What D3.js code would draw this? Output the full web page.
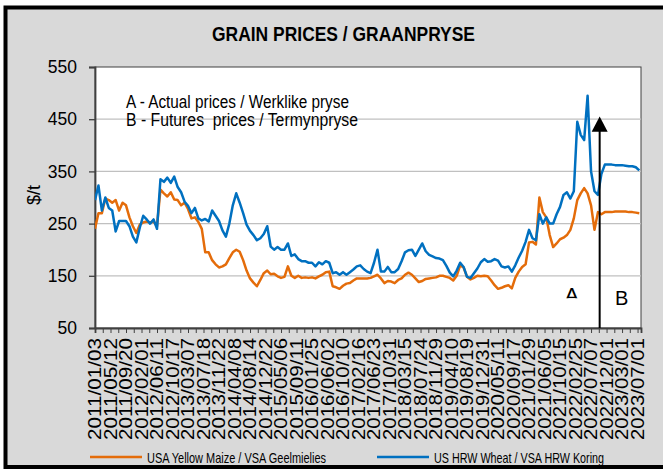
<!DOCTYPE html>
<html>
<head>
<meta charset="utf-8">
<script src="https://cdn.jsdelivr.net/npm/d3@7"></script>
<style>
body { margin: 0; background: #fff; }
text { font-family: "Liberation Sans", Arial, sans-serif; fill: #000; }
</style>
</head>
<body>
<div id="main_view"></div>
<script>
// tick labels of the category axis (one every 90 trading days)
var tickLabels = ["2011/01/03","2011/05/12","2011/09/20","2012/02/01","2012/06/11","2012/10/17",
  "2013/03/07","2013/07/18","2013/11/22","2014/04/08","2014/08/14","2014/12/22",
  "2015/05/06","2015/09/11","2016/01/25","2016/06/02","2016/10/10","2017/02/16",
  "2017/06/23","2017/10/31","2018/03/15","2018/07/24","2018/11/29","2019/04/10",
  "2019/08/19","2019/12/31","2020/05/11","2020/09/17","2021/01/29","2021/06/05",
  "2021/10/15","2022/02/25","2022/07/07","2022/12/01","2023/03/01","2023/07/01"];

// prices in $/t, one value every 20 trading days
var maize = [240,270,270,298,295,290,295,275,290,285,262,245,232,248,252,254,252,254,
  245,315,308,302,310,296,295,285,290,278,260,262,253,240,195,195,180,172,166,168,172,184,195,200,196,180,160,145,137,130,142,155,160,153,154,149,
  146,148,168,150,146,150,146,147,146,147,145,149,152,157,158,130,128,125,131,135,136,141,145,145,145,145,146,149,152,145,136,140,139,136,142,145,
  152,156,152,145,138,140,144,145,146,147,150,150,148,146,141,150,170,166,148,143,146,150,149,150,149,141,132,125,127,130,132,126,146,158,167,172,
  214,215,210,300,272,262,228,205,212,220,223,228,238,260,295,308,318,308,285,238,272,268,272,272,272,273,273,273,273,272,272,271,270];

var wheat = [295,323,275,300,280,275,235,255,255,255,245,225,214,242,265,258,250,258,
  240,335,330,338,328,340,320,310,292,284,270,280,260,256,259,254,275,265,255,237,225,250,285,308,290,270,248,236,228,218,222,230,245,206,200,205,
  200,200,212,188,191,182,178,178,175,175,168,176,172,178,175,155,157,152,157,152,157,162,168,170,163,158,155,175,200,158,158,167,157,157,163,178,
  195,199,200,188,200,212,197,190,187,184,183,180,169,156,149,160,175,167,148,146,155,164,176,182,177,178,182,179,168,166,168,158,170,185,198,215,
  238,222,218,268,250,262,250,250,268,282,305,310,298,312,445,420,410,495,350,312,305,345,363,363,363,362,362,362,361,360,360,358,352];

var yTicks = [50, 150, 250, 350, 450, 550];
var sampleStep = 20, labelStep = 90, minorStep = 45, lastDay = 3170;
var futuresStart = 2930;   // day where actual prices end and futures start

var seriesList = [
  {name: "USA Yellow Maize / VSA Geelmielies", values: maize, color: "#E46C0A"},
  {name: "US HRW Wheat / VSA HRW Koring", values: wheat, color: "#0070C0"}
];

// set the dimensions and margins of the graph
var margin = {top: 67, right: 22, bottom: 142, left: 95},
    width = 663 - margin.left - margin.right,
    height = 470 - margin.top - margin.bottom;

var xScale = d3.scaleLinear().domain([0, lastDay]).range([0, width]);
var yScale = d3.scaleLinear().domain([50, 550]).range([height, 0]);

var root = d3.select("#main_view").append("svg")
    .attr("width", 663)
    .attr("height", 470);

// outer chart frame
root.append("rect")
    .attr("x", 5.5).attr("y", 7.5)
    .attr("width", 690).attr("height", 459.5)
    .attr("fill", "#d9d9d9")
    .attr("stroke", "#000")
    .attr("stroke-width", 4);

// narrow-looking texts: squeeze Liberation Sans to the reference widths
root.append("text")
    .attr("x", 212).attr("y", 41)
    .attr("textLength", 263)
    .attr("lengthAdjust", "spacingAndGlyphs")
    .style("font-size", "20px")
    .style("font-weight", "bold")
    .text("GRAIN PRICES / GRAANPRYSE");

var svg = root.append("g")
    .attr("transform", "translate(" + margin.left + "," + margin.top + ")");

svg.append("rect")
    .attr("width", width).attr("height", height)
    .attr("fill", "#fff")
    .attr("stroke", "#404040")
    .attr("stroke-width", 1);

svg.append("clipPath").attr("id", "plotclip")
  .append("rect").attr("width", width).attr("height", height);

// gridlines
svg.selectAll(".grid")
    .data(yTicks.slice(1, -1))
  .enter().append("line")
    .attr("x1", 0).attr("x2", width)
    .attr("y1", function(d) { return yScale(d); })
    .attr("y2", function(d) { return yScale(d); })
    .attr("stroke", "#c0c0c0")
    .attr("stroke-width", 1.3);

// Add the Y Axis
var yAxis = svg.append("g")
    .call(d3.axisLeft(yScale).tickValues(yTicks).tickSize(6).tickPadding(12));
yAxis.select(".domain").attr("stroke", "#404040").attr("stroke-width", 1.8);
yAxis.selectAll(".tick line").attr("stroke", "#404040").attr("stroke-width", 1.3);
yAxis.selectAll(".tick text")
    .style("font-size", "17.5px")
    .style("font-family", "'Liberation Sans', Arial, sans-serif")
    .attr("fill", "#000");

// Add the X Axis (minor ticks, then labels)
var minorTicks = d3.range(0, lastDay, minorStep);
var xAxis = svg.append("g")
    .attr("transform", "translate(0," + height + ")")
    .call(d3.axisBottom(xScale).tickValues(minorTicks).tickSize(5).tickFormat(""));
xAxis.select(".domain").attr("stroke", "#404040").attr("stroke-width", 1.8);
xAxis.selectAll(".tick line").attr("stroke", "#404040").attr("stroke-width", 1);

svg.append("g").selectAll(".xlabel")
    .data(tickLabels)
  .enter().append("text")
    .attr("transform", function(d, i) {
      return "translate(" + xScale(i * labelStep) + "," + (height + 10) + ") rotate(-90)";
    })
    .attr("dy", "0.36em")
    .attr("text-anchor", "end")
    .attr("textLength", 102)
    .attr("lengthAdjust", "spacingAndGlyphs")
    .style("font-size", "17.5px")
    .text(function(d) { return d; });

root.append("text")
    .attr("transform", "translate(40,195) rotate(-90)")
    .attr("text-anchor", "middle")
    .style("font-size", "18px")
    .text("$/t");

// define the line
var line = d3.line()
    .x(function(d, i) { return xScale(i * sampleStep); })
    .y(function(d) { return yScale(d); });

svg.selectAll(".series")
    .data(seriesList)
  .enter().append("path")
    .attr("clip-path", "url(#plotclip)")
    .attr("fill", "none")
    .attr("stroke", function(d) { return d.color; })
    .attr("stroke-width", 2.5)
    .attr("stroke-linejoin", "round")
    .attr("d", function(d) { return line(d.values); });

// annotation
svg.append("text")
    .attr("x", 31).attr("y", 40.5)
    .attr("textLength", 223)
    .attr("lengthAdjust", "spacingAndGlyphs")
    .style("font-size", "17.5px")
    .text("A - Actual prices / Werklike pryse");
svg.append("text")
    .attr("x", 31).attr("y", 59)
    .attr("textLength", 232)
    .attr("lengthAdjust", "spacingAndGlyphs")
    .style("font-size", "17.5px")
    .style("white-space", "pre")
    .text("B - Futures  prices / Termynpryse");

var fx = xScale(futuresStart);
svg.append("line")
    .attr("x1", fx).attr("x2", fx)
    .attr("y1", height).attr("y2", yScale(440))
    .attr("stroke", "#000").attr("stroke-width", 2);
svg.append("path")
    .attr("d", "M" + fx + "," + yScale(455) + "L" + (fx + 8) + "," + yScale(426) + "L" + (fx - 8) + "," + yScale(426) + "Z")
    .attr("fill", "#000");

// "A" label, cut off just under its crossbar as in the source
svg.append("clipPath").attr("id", "aclip")
  .append("rect").attr("x", fx - 45).attr("y", 200).attr("width", 40).attr("height", 31.3);
svg.append("text")
    .attr("clip-path", "url(#aclip)")
    .attr("x", fx - 28).attr("y", 235)
    .attr("text-anchor", "middle")
    .style("font-size", "21px")
    .text("A");
svg.append("text")
    .attr("x", fx + 22).attr("y", 238)
    .attr("text-anchor", "middle")
    .style("font-size", "20px")
    .text("B");

// legend
var legend = root.selectAll(".legend")
    .data(seriesList)
  .enter().append("g")
    .attr("transform", function(d, i) { return "translate(" + (i === 0 ? 90 : 377) + ",457)"; });
legend.append("line")
    .attr("x1", 0).attr("x2", 52)
    .attr("stroke", function(d) { return d.color; })
    .attr("stroke-width", 2.5);
legend.append("text")
    .attr("x", 57).attr("y", 5.5)
    .attr("textLength", function(d, i) { return i === 0 ? 179 : 170; })
    .attr("lengthAdjust", "spacingAndGlyphs")
    .style("font-size", "14.5px")
    .text(function(d) { return d.name; });
</script>
</body>
</html>
